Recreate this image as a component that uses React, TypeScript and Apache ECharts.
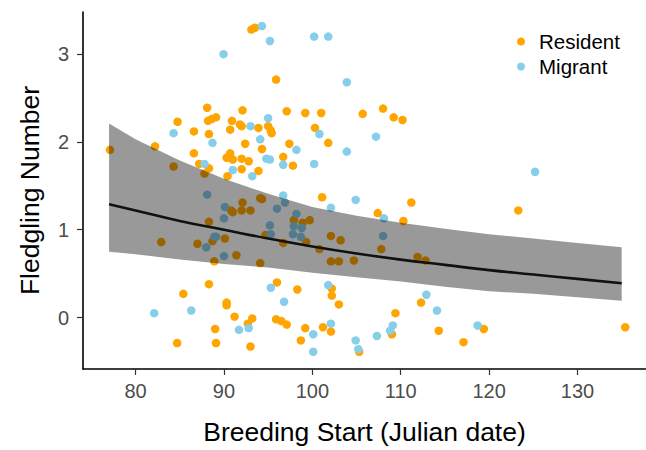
import React, { useEffect, useRef } from "react";
import * as echarts from "echarts";

const residentX = [93.1, 93.5, 95.9, 88.1, 92.1, 84.75, 88.2, 88.6, 89.1, 90.9, 90.7, 91.8, 92.0, 93.9, 95.0, 95.3, 95.4, 86.6, 88.3, 92.4, 77.1, 82.2, 94.3, 86.6, 90.3, 90.7, 91.0, 92.0, 92.8, 92.0, 93.9, 87.2, 88.3, 84.3, 87.8, 90.4, 100.3, 101.8,
  92.1, 92.0, 90.8, 91.0, 93.0, 94.1, 94.3, 88.3, 94.7, 82.9, 87.0, 88.7, 90.1, 91.4, 88.9, 94.1, 88.3, 96.0, 85.4, 90.3, 90.3, 91.2, 93.2, 92.7, 95.9, 89.0, 84.7, 89.1, 93.0,
  101.1, 111.2, 107.4, 110.3, 97.9, 98.9, 99.7, 96.7, 99.3, 100.8, 102.1, 103.2, 107.8, 102.1, 103.0, 104.7, 111.9, 112.8, 98.3, 102.2, 102.2, 103.0, 112.3, 109.4, 96.5, 97.1, 99.2, 101.2, 102.1, 98.7, 105.3, 109.0, 114.3, 117.1,
  97.1, 99.2, 101.0, 105.7, 108.0, 109.2, 110.2, 97.4, 96.7, 97.8, 123.3, 119.4, 135.4];
const residentY = [3.28, 3.30, 2.71, 2.39, 2.36, 2.23, 2.24, 2.26, 2.28, 2.24, 2.14, 2.20, 2.18, 2.16, 2.18, 2.13, 2.10, 2.12, 2.09, 1.98, 1.91, 1.95, 1.92, 1.87, 1.82, 1.87, 1.80, 1.81, 1.78, 1.69, 1.67, 1.75, 1.70, 1.72, 1.64, 1.61, 2.16, 1.99,
  1.31, 1.22, 1.22, 1.20, 1.22, 1.36, 1.35, 1.09, 0.94, 0.86, 0.84, 0.87, 0.90, 0.71, 0.64, 0.62, 0.38, 0.40, 0.27, 0.17, 0.14, 0.01, -0.01, -0.07, -0.02, -0.13, -0.29, -0.29, -0.33,
  1.37, 1.31, 1.19, 1.10, 1.11, 1.08, 1.11, 0.85, 0.86, 0.78, 0.93, 0.88, 0.78, 0.64, 0.64, 0.65, 0.69, 0.65, 0.32, 0.33, 0.25, 0.15, 0.17, 0.05, -0.04, -0.08, -0.12, -0.11, -0.16, -0.26, -0.39, -0.19, -0.15, -0.28,
  2.35, 2.33, 2.33, 2.32, 2.38, 2.28, 2.25, 1.98, 1.83, 1.73, 1.22, -0.13, -0.11];

const migrantX = [94.3, 95.2, 89.95, 95.0, 93.0, 84.3, 88.7, 94.1, 94.8, 95.2, 91.0, 93.2, 87.8,
  100.2, 101.8, 103.9, 100.8, 107.2, 98.2, 103.9, 96.7, 100.2, 125.2,
  88.1, 90.1, 90.0, 96.0, 95.2, 95.3, 88.0, 88.9, 89.1, 90.0, 95.3, 82.1, 86.3, 91.7, 92.8,
  96.7, 96.9, 104.9, 102.1, 108.1, 98.2, 97.9, 98.8, 97.8, 98.7, 108.0, 96.8, 101.8, 112.9, 114.1, 102.1, 100.1, 100.1, 104.9, 105.2, 107.3, 108.8, 109.1, 118.7];
const migrantY = [3.32, 3.15, 3.00, 2.27, 2.18, 2.10, 1.99, 2.03, 1.81, 1.80, 1.68, 1.61, 1.75,
  3.20, 3.20, 2.68, 2.09, 2.06, 1.91, 1.89, 1.74, 1.75, 1.66,
  1.40, 1.26, 1.13, 1.24, 1.05, 0.95, 0.80, 0.92, 0.92, 0.70, 0.34, 0.05, 0.08, -0.14, -0.12,
  1.39, 1.31, 1.34, 1.25, 1.13, 1.18, 1.04, 1.02, 0.95, 0.92, 0.93, 0.18, 0.37, 0.26, 0.08, -0.07, -0.19, -0.39, -0.26, -0.36, -0.21, -0.15, -0.09, -0.09];

const fitX = [77, 80, 85, 90, 95, 100, 105, 110, 115, 120, 125, 130, 135];
const fitY = [1.29, 1.22, 1.10, 1.00, 0.90, 0.81, 0.73, 0.66, 0.60, 0.54, 0.49, 0.44, 0.39];
const lowerY = [0.75, 0.72, 0.66, 0.61, 0.57, 0.51, 0.46, 0.41, 0.35, 0.30, 0.27, 0.23, 0.19];
const upperY = [2.21, 2.03, 1.79, 1.58, 1.41, 1.26, 1.16, 1.08, 1.01, 0.95, 0.90, 0.85, 0.80];

const xTicks = [80, 90, 100, 110, 120, 130];
const yTicks = [0, 1, 2, 3];

const FONT = "'Liberation Sans', Arial, sans-serif";

export default function App() {
  const ref = useRef<HTMLDivElement>(null);
  useEffect(() => {
    if (!ref.current) return;
    const chart = echarts.init(ref.current, undefined, { renderer: "svg" });
    const zip = (xs: number[], ys: number[]) => xs.map((x, i) => [x, ys[i]]);
    chart.setOption({
      animation: false,
      backgroundColor: "#ffffff",
      textStyle: { fontFamily: FONT },
      grid: { left: 83, right: 0, top: 12, bottom: 75 },
      legend: {
        data: ["Resident", "Migrant"],
        orient: "vertical",
        left: 512,
        top: 26,
        icon: "circle",
        itemWidth: 8,
        itemHeight: 8,
        itemGap: 4,
        textStyle: { fontSize: 20.5, color: "#000", fontFamily: FONT, lineHeight: 20.5, padding: [0, 0, 0, 9] },
      },
      xAxis: {
        type: "value",
        min: 74.05,
        max: 137.75,
        splitLine: { show: false },
        axisLine: { onZero: false, lineStyle: { color: "#000", width: 1.6 } },
        axisTick: { length: 6, lineStyle: { color: "#333", width: 1.2 }, customValues: xTicks },
        axisLabel: { customValues: xTicks, fontSize: 20, color: "#4d4d4d", margin: 12, fontFamily: FONT },
        name: "Breeding Start (Julian date)",
        nameLocation: "middle",
        nameGap: 49,
        nameTextStyle: { fontSize: 26.5, color: "#000", fontFamily: FONT },
      },
      yAxis: {
        type: "value",
        min: -0.586,
        max: 3.48,
        splitLine: { show: false },
        axisLine: { show: true, onZero: false, lineStyle: { color: "#000", width: 1.6 } },
        axisTick: { show: true, length: 6, lineStyle: { color: "#333", width: 1.2 }, customValues: yTicks },
        axisLabel: { customValues: yTicks, fontSize: 20, color: "#4d4d4d", margin: 14, fontFamily: FONT },
        name: "Fledgling Number",
        nameLocation: "middle",
        nameGap: 40,
        nameTextStyle: { fontSize: 26.5, color: "#000", fontFamily: FONT },
      },
      series: [
        {
          name: "Resident",
          type: "scatter",
          data: zip(residentX, residentY),
          symbolSize: 8.5,
          itemStyle: { color: "#FFA500", opacity: 1 },
          z: 2,
        },
        {
          name: "Migrant",
          type: "scatter",
          data: zip(migrantX, migrantY),
          symbolSize: 8.5,
          itemStyle: { color: "#87CEEB", opacity: 1 },
          z: 2,
        },
        {
          name: "band",
          type: "custom",
          data: fitX.map((x, i) => [x, lowerY[i], upperY[i]]),
          encode: { x: 0, y: [1, 2] },
          z: 3,
          renderItem: (params: any, api: any) => {
            if (params.dataIndex !== 0) return null;
            const top = fitX.map((x, i) => api.coord([x, upperY[i]]));
            const bot = fitX.map((x, i) => api.coord([x, lowerY[i]])).reverse();
            return {
              type: "polygon",
              shape: { points: top.concat(bot), smooth: 0 },
              style: { fill: "rgba(0,0,0,0.4)" },
            };
          },
        },
        {
          name: "fit",
          type: "line",
          data: zip(fitX, fitY),
          symbol: "none",
          smooth: true,
          lineStyle: { color: "#111", width: 2.6 },
          z: 4,
        },
      ],
    });
    return () => chart.dispose();
  }, []);
  return <div ref={ref} style={{ position: "fixed", left: 0, top: 0, width: 646, height: 450 }} />;
}
